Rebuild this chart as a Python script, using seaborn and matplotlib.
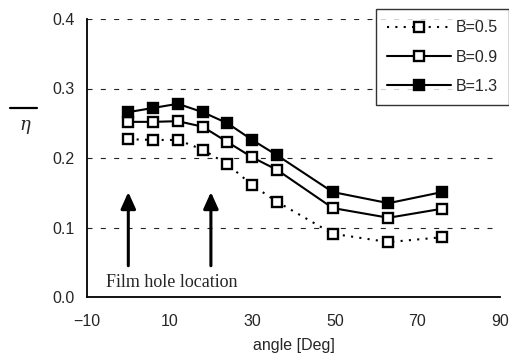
import matplotlib
matplotlib.use("Agg")
import matplotlib.pyplot as plt
from matplotlib.lines import Line2D
import seaborn as sns
import pandas as pd

angle = [0, 6, 12, 18, 24, 30, 36, 49.5, 63, 76]
eta_b05 = [0.227, 0.226, 0.226, 0.212, 0.191, 0.161, 0.137, 0.091, 0.079, 0.086]
eta_b09 = [0.252, 0.252, 0.253, 0.245, 0.223, 0.201, 0.183, 0.128, 0.114, 0.127]
eta_b13 = [0.266, 0.272, 0.278, 0.266, 0.250, 0.226, 0.204, 0.151, 0.135, 0.151]
series_labels = ["B=0.5", "B=0.9", "B=1.3"]
hole_angles = [0, 20]
x_ticks = [-10, 10, 30, 50, 70, 90]
y_ticks = [0.0, 0.1, 0.2, 0.3, 0.4]

sns.set_style("white")
plt.rcParams["font.family"] = ["Liberation Sans", "DejaVu Sans"]

W, H = 509, 361
fig = plt.figure(figsize=(W/100, H/100), dpi=100)
ax = fig.add_axes([87/W, 1-297/H, (500-87)/W, (297-19)/H])

styles = [
    (eta_b05, (0, (1, 3)), "white"),
    (eta_b09, "-", "white"),
    (eta_b13, "-", "black"),
]
for (vals, ls, fc), lab in zip(styles, series_labels):
    df = pd.DataFrame({"angle": angle, "eta": vals})
    sns.lineplot(data=df, x="angle", y="eta", ax=ax, color="black",
                 linestyle=ls, linewidth=1.5, marker="s", markersize=7.5,
                 markerfacecolor=fc, markeredgecolor="black",
                 markeredgewidth=1.7, label=lab, legend=False)

ax.set_xlim(-10, 90)
ax.set_ylim(0, 0.4)
ax.set_xticks(x_ticks)
ax.set_yticks(y_ticks)
ax.set_yticklabels([f"{v:.1f}" for v in y_ticks])
ax.tick_params(axis="x", direction="in", length=4, width=1, labelsize=11.5, pad=12)
ax.tick_params(axis="y", length=0, labelsize=11.5, pad=9)
for y in y_ticks[1:]:
    ax.axhline(y, color="#222222", linestyle=(0, (4.5, 7.5)), linewidth=0.8, zorder=0)
ax.spines["top"].set_visible(False)
ax.spines["right"].set_visible(False)
for s in ["left", "bottom"]:
    ax.spines[s].set_color("black")
    ax.spines[s].set_linewidth(1.3)
ax.set_xlabel("angle [Deg]", fontsize=11.5, labelpad=7)
ax.set_ylabel("")

for ha in hole_angles:
    ax.annotate("", xy=(ha, 0.151), xytext=(ha, 0.045),
                arrowprops=dict(arrowstyle="-|>,head_length=1.0,head_width=0.45",
                                color="black", lw=2.2, shrinkA=0, shrinkB=0))
ax.text(-5.3, 0.021, "Film hole location", fontsize=13, ha="left", va="center",
        family=["Liberation Serif", "DejaVu Serif"])

fig.add_artist(Line2D([10/W, 37/W], [1-108/H, 1-108/H], color="black", lw=1.6))
fig.text(25/W, 1-125/H, "η", fontsize=13, ha="center", va="center",
         style="italic", family=["DejaVu Serif"])

handles, labels = ax.get_legend_handles_labels()
leg = fig.legend(handles, labels, loc="upper right", bbox_to_anchor=(1.0, 1-9/H),
                 frameon=True, fancybox=False, edgecolor="black", fontsize=11.5,
                 handlelength=4.0, borderpad=0.7, labelspacing=0.9, handletextpad=0.3,
                 borderaxespad=0.0)
leg.get_frame().set_linewidth(1.0)

fig.savefig("out.png", dpi=100)
